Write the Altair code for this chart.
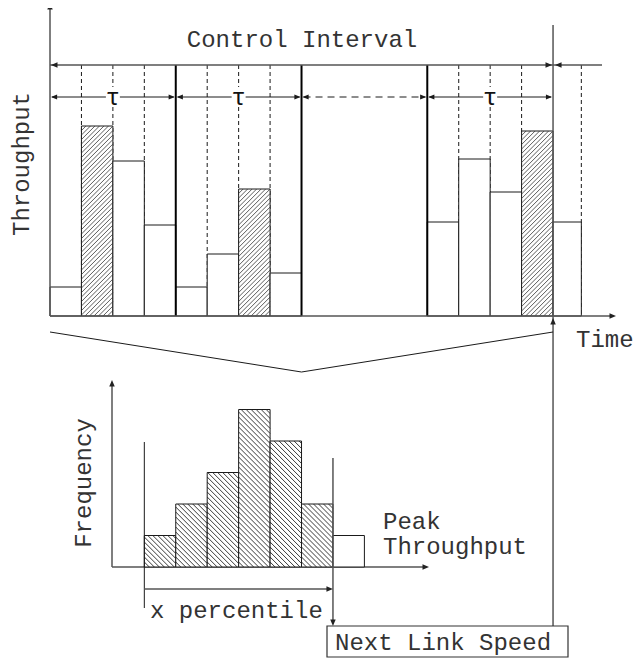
import altair as alt
import pandas as pd

# ---------------- data ----------------
# top panel: throughput per time slot (slot index along the time axis)
slot_index = [0, 1, 2, 3, 4, 5, 6, 7, 12, 13, 14, 15, 16]
throughput = [29, 190, 155, 91, 29, 62, 127, 43, 94, 157, 124, 185, 94]
is_peak = [0, 1, 0, 0, 0, 0, 1, 0, 0, 0, 0, 1, 0]
slot_frac = [1, 1, 1, 1, 1, 1, 1, 1, 1, 1, 1, 1, 0.9]

interval_start = [0, 4, 8, 12]
interval_idle = [False, False, True, False]
SLOTS_PER_INTERVAL = 4
next_interval_slot = 16

# bottom panel: histogram of peak throughput
hist_freq = [1, 2, 3, 5, 4, 2, 1]
hist_in_pct = [1, 1, 1, 1, 1, 1, 0]

txt_control = "Control Interval"
txt_tau = "τ"
txt_ythr = "Throughput"
txt_time = "Time"
txt_freq = "Frequency"
txt_peak = ["Peak", "Throughput"]
txt_pct = "x percentile"
txt_next = "Next Link Speed"

# ---------------- layout (diagram units = page pixels) ----------------
W, H = 626, 650
TX0, SW, TBASE, TTOP, TAU_Y = 50, 31.44, 316, 65, 97
HBASE, HUNIT, HAX = 567, 31.5, 112
HX0 = TX0 + 3 * SW
NX = TX0 + next_interval_slot * SW
PX = HX0 + 6 * SW
BOX = (327, 626, 568, 657)
FONT = "Liberation Mono"
INK = "#1a1a1a"
GRAY = "#555555"
TXT = "#333333"

XS = alt.Scale(domain=[8, 8 + W], nice=False, zero=False)
YS = alt.Scale(domain=[8, 8 + H], nice=False, zero=False, reverse=True)


def enc2():
    return dict(
        x=alt.X("x:Q", scale=XS, axis=None),
        y=alt.Y("y:Q", scale=YS, axis=None),
        x2="x2:Q",
        y2="y2:Q",
    )


def segs(rows, color=INK, width=1.0, dash=None):
    df = pd.DataFrame(rows, columns=["x", "y", "x2", "y2"])
    kw = dict(color=color, strokeWidth=width)
    if dash:
        kw["strokeDash"] = dash
    return alt.Chart(df).mark_rule(**kw).encode(**enc2())


def rects(rows, fill="white", stroke=INK, width=1.0):
    df = pd.DataFrame(rows, columns=["x", "y", "x2", "y2"])
    return alt.Chart(df).mark_rect(fill=fill, stroke=stroke, strokeWidth=width).encode(**enc2())


ARROW = "M0,0L-1,-0.42L-1,0.42Z"


def heads(rows, color=INK, size=170):
    df = pd.DataFrame(rows, columns=["x", "y", "a"])
    return alt.Chart(df).mark_point(shape=ARROW, filled=True, size=size, color=color, opacity=1, strokeWidth=0).encode(
        x=alt.X("x:Q", scale=XS, axis=None),
        y=alt.Y("y:Q", scale=YS, axis=None),
        angle=alt.Angle("a:Q", scale=None),
    )


def text(rows, align="left", baseline="alphabetic", angle=0, size=24, color=TXT):
    df = pd.DataFrame(rows, columns=["x", "y", "t"])
    kw = dict(font=FONT, fontSize=size, align=align, baseline=baseline, color=color)
    if angle:
        kw["angle"] = angle
    return alt.Chart(df).mark_text(**kw).encode(
        x=alt.X("x:Q", scale=XS, axis=None),
        y=alt.Y("y:Q", scale=YS, axis=None),
        text="t:N",
    )


def hatch(x0, x1, y0, y1, step, direction):
    out = []
    if direction == "/":  # x + y = c
        c = x0 + y0
        while c < x1 + y1:
            lo, hi = max(x0, c - y1), min(x1, c - y0)
            if hi > lo:
                out.append((lo, c - lo, hi, c - hi))
            c += step
    else:  # x - y = c
        c = x0 - y1
        while c < x1 - y0:
            lo, hi = max(x0, c + y0), min(x1, c + y1)
            if hi > lo:
                out.append((lo, lo - c, hi, hi - c))
            c += step
    return out


layers = []

# dashed slot boundaries in the top panel
dash_rows = []
for s0, idle in zip(interval_start, interval_idle):
    if idle:
        continue
    for j in range(1, SLOTS_PER_INTERVAL):
        xx = TX0 + (s0 + j) * SW
        dash_rows.append((xx, TTOP, xx, TBASE))
xx = TX0 + (slot_index[-1] + slot_frac[-1]) * SW
dash_rows.append((xx, TTOP, xx, TBASE))
layers.append(segs(dash_rows, width=1, dash=[4, 3]))

# throughput bars
bar_rows, hatch_rows = [], []
for s, v, p, f in zip(slot_index, throughput, is_peak, slot_frac):
    x0, x1 = TX0 + s * SW, TX0 + (s + f) * SW
    bar_rows.append((x0, TBASE - v, x1, TBASE))
    if p:
        hatch_rows += hatch(x0, x1, TBASE - v, TBASE, 4.5, "/")
layers.append(rects(bar_rows))
layers.append(segs(hatch_rows, color="#333", width=0.8))

# thick interval boundaries
thick = [(TX0 + s * SW, TTOP, TX0 + s * SW, TBASE) for s in interval_start[1:]]
layers.append(segs(thick, color="#000", width=2))

# top axes
layers.append(segs([(TX0, TBASE, TX0, 6), (TX0, TBASE, 611, TBASE)], color=GRAY, width=1.5))
layers.append(heads([(TX0, 3, 270), (616, TBASE, 0)], color="#222"))

# control interval line
layers.append(segs([(TX0, TTOP, 602, TTOP)], color=GRAY, width=1.5))
layers.append(heads([(TX0 + 1, TTOP, 180), (NX - 1, TTOP, 0), (NX + 2, TTOP, 180)], color="#222"))

# tau arrows
solid_tau, dashed_tau, tau_heads, tau_bg, tau_txt = [], [], [], [], []
for s0, idle in zip(interval_start, interval_idle):
    a, b = TX0 + s0 * SW, TX0 + (s0 + SLOTS_PER_INTERVAL) * SW
    (dashed_tau if idle else solid_tau).append((a + 2, TAU_Y, b - 2, TAU_Y))
    tau_heads += [(a + 1, TAU_Y, 180), (b - 1, TAU_Y, 0)]
    if not idle:
        m = (a + b) / 2
        tau_bg.append((m - 7, TAU_Y - 10, m + 7, TAU_Y + 10))
        tau_txt.append((m, TAU_Y + 8, txt_tau))
layers.append(segs(solid_tau, width=1))
layers.append(segs(dashed_tau, width=1, dash=[7, 5]))
layers.append(heads(tau_heads, size=150))
layers.append(rects(tau_bg, stroke="white", width=0))
layers.append(text(tau_txt, align="center", size=24, color="#111"))

# next-link-speed vertical
layers.append(segs([(NX, 25, NX, BOX[1])], color=GRAY, width=1.5))
layers.append(heads([(NX, TBASE + 2, 270)], color="#222"))

# funnel
mid = TX0 + 8 * SW
layers.append(segs([(TX0, 332, mid, 372), (mid, 372, NX, 332)], width=1))

# histogram axes
layers.append(segs([(HAX, HBASE, HAX, 384), (HAX, HBASE, 424, HBASE)], color=GRAY, width=1.5))
layers.append(heads([(HAX, 380, 270), (429, HBASE, 0)], color="#222"))

# histogram bars
hb, hh = [], []
for i, (fq, inp) in enumerate(zip(hist_freq, hist_in_pct)):
    x0, x1 = HX0 + i * SW, HX0 + (i + 1) * SW
    y0 = HBASE - fq * HUNIT
    hb.append((x0, y0, x1, HBASE))
    if inp:
        hh += hatch(x0, x1, y0, HBASE, 5.0, "\\")
layers.append(rects(hb))
layers.append(segs(hh, color="#222", width=0.9))

# percentile markers
layers.append(segs([(HX0, 442, HX0, 608)], width=1))
layers.append(segs([(PX, 458, PX, BOX[1] - 5), (HX0, 589, PX - 3, 589)], color=GRAY, width=1.5))
layers.append(heads([(PX, BOX[1], 90), (PX, 589, 0)], color="#222"))

# next link speed box
layers.append(rects([BOX], stroke="#333", width=1.2))

# texts
layers.append(text([(302, 47, txt_control)], align="center"))
layers.append(text([(29, 164, txt_ythr)], align="center", angle=270))
layers.append(text([(576, 347, txt_time)]))
layers.append(text([(91, 483, txt_freq)], align="center", angle=270))
layers.append(text([(383, 529, txt_peak[0]), (383, 554, txt_peak[1])]))
layers.append(text([(150, 618, txt_pct)]))
layers.append(text([(335, (BOX[1] + BOX[3]) / 2 + 8, txt_next)]))

chart = (
    alt.layer(*layers)
    .properties(width=W, height=H, padding=0, autosize="none")
    .configure_view(strokeWidth=0)
)

chart.save("out.html", embed_options={"renderer": "svg", "actions": False})
